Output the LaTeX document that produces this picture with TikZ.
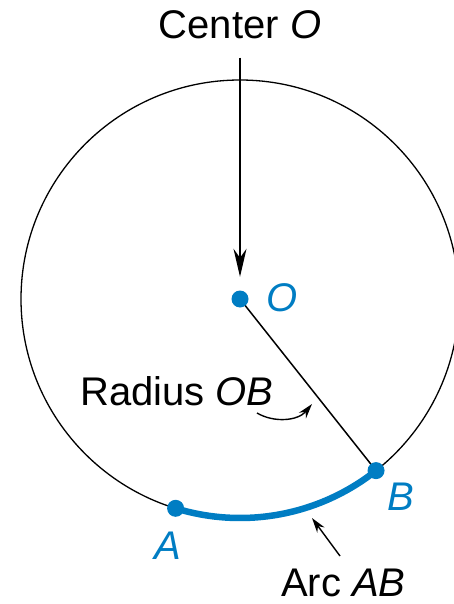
\documentclass[tikz,border=0pt]{standalone}
\usepackage{fontspec}
\setmainfont{Liberation Sans}
\usetikzlibrary{arrows.meta}
\definecolor{geoblue}{RGB}{0,125,195}
\begin{document}
\begin{tikzpicture}[x=1pt,y=-1pt,
  lbl/.style={font=\fontsize{40}{48}\selectfont, inner sep=0pt},
  ptlbl/.style={inner sep=0pt, text=geoblue, font=\fontsize{40}{48}\selectfont\itshape},
  dot/.style={circle, fill=geoblue, inner sep=0pt, minimum size=17pt},
  thinline/.style={line width=1.3pt},
  bigarrow/.style={-{Stealth[length=28pt,width=13pt,inset=9pt]}, line width=1.4pt},
  smallarrow/.style={-{Stealth[length=15pt,width=9pt,inset=5pt]}, line width=1.4pt}]
\useasboundingbox (0,0) rectangle (454,604);
\coordinate (O) at (240,299);
\path (O) ++(107.1:219) coordinate (A);
\path (O) ++(51.6:219) coordinate (B);
% circle
\draw[thinline] (O) circle[radius=219];
% radius line
\draw[line width=1.5pt] (O) -- (B);
% arc AB
\draw[geoblue, line width=6.5pt] (A) arc[start angle=107.1, end angle=51.6, radius=219];
% dots
\node[dot] (Od) at (O) {};
\node[dot] (Ad) at (A) {};
\node[dot] (Bd) at (B) {};
% point labels
\node[ptlbl] (Ol) at (282,298) {O};
\node[ptlbl] (Al) at (168,546) {A};
\node[ptlbl] (Bl) at (401,497) {B};
% center label and arrow
\node[lbl, anchor=base] (ctr) at (240,39) {Center \textit{O}};
\draw[bigarrow] ([yshift=-18pt]ctr.south) -- ([yshift=13.5pt]Od.north);
% radius label and arrow
\node[lbl, anchor=base west] (rad) at (80,405) {Radius \textit{OB}};
\coordinate (r1) at (257,413);
\coordinate (r2) at (312,404);
\draw[smallarrow] (r1) .. controls (274,423) and (298,421) .. (r2);
% arc label and arrow
\node[lbl, anchor=base west] (arcl) at (281,596) {Arc \textit{AB}};
\coordinate (a1) at (340,556);
\coordinate (a2) at (312,518);
\draw[smallarrow] (a1) -- (a2);
\end{tikzpicture}
\end{document}
